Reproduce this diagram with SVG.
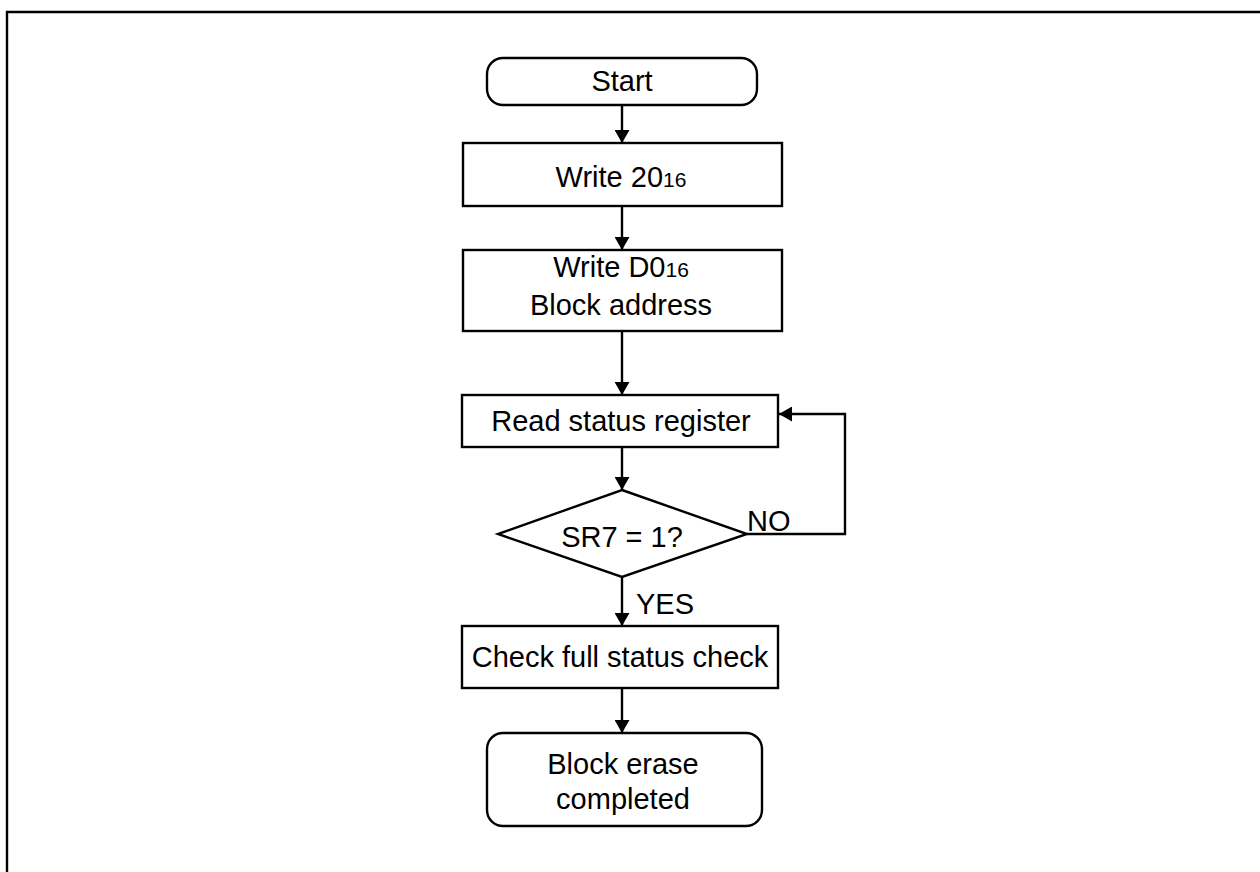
<svg xmlns="http://www.w3.org/2000/svg" width="1260" height="872" viewBox="0 0 1260 872">
<style>
.box{fill:#fff;stroke:#000;stroke-width:2.4}
.ln{fill:none;stroke:#000;stroke-width:2.4}
text{font-family:"Liberation Sans",Arial,sans-serif;font-size:29px;fill:#000}
.c{text-anchor:middle}
.sub{font-size:21px}
</style>
<defs>
<marker id="ah" viewBox="0 0 13 15" refX="13" refY="7.5" markerWidth="13" markerHeight="15" markerUnits="userSpaceOnUse" orient="auto">
<path d="M0,0 L13,7.5 L0,15 Z" fill="#000"/>
</marker>
</defs>
<rect width="1260" height="872" fill="#fff"/>
<path class="ln" d="M7,872 V12 H1262" stroke-width="2.6"/>
<g id="connectors">
<line class="ln" x1="622" y1="105" x2="622" y2="143" marker-end="url(#ah)"/>
<line class="ln" x1="622" y1="206" x2="622" y2="250" marker-end="url(#ah)"/>
<line class="ln" x1="622" y1="331" x2="622" y2="395" marker-end="url(#ah)"/>
<line class="ln" x1="622" y1="447" x2="622" y2="490" marker-end="url(#ah)"/>
<line class="ln" x1="622" y1="577" x2="622" y2="626" marker-end="url(#ah)"/>
<line class="ln" x1="622" y1="688" x2="622" y2="733" marker-end="url(#ah)"/>
<polyline class="ln" points="747,534 845,534 845,414 779,414" marker-end="url(#ah)"/>
<text x="747" y="531">NO</text>
<text x="636" y="614">YES</text>
</g>
<g id="start">
<rect class="box" x="487" y="58" width="270" height="47" rx="16"/>
<text class="c" x="622" y="91">Start</text>
</g>
<g id="write20">
<rect class="box" x="463" y="143" width="319" height="63"/>
<text class="c" x="621" y="187">Write 20<tspan class="sub">16</tspan></text>
</g>
<g id="writeD0">
<rect class="box" x="463" y="250" width="319" height="81"/>
<text class="c" x="621" y="277">Write D0<tspan class="sub">16</tspan></text>
<text class="c" x="621" y="315">Block address</text>
</g>
<g id="readsr">
<rect class="box" x="462" y="395" width="316" height="52"/>
<text class="c" x="621" y="431">Read status register</text>
</g>
<g id="decision">
<polygon class="box" points="622,490 747,534 622,577 498,534"/>
<text class="c" x="622" y="547">SR7 = 1?</text>
</g>
<g id="checkfull">
<rect class="box" x="462" y="626" width="316" height="62"/>
<text class="c" x="620" y="667">Check full status check</text>
</g>
<g id="done">
<rect class="box" x="487" y="733" width="275" height="93" rx="16"/>
<text class="c" x="623" y="774">Block erase</text>
<text class="c" x="623" y="809">completed</text>
</g>
</svg>
